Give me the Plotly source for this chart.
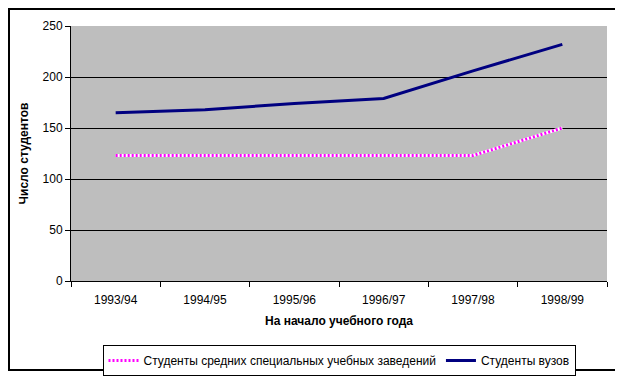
import plotly.graph_objects as go

categories = ["1993/94", "1994/95", "1995/96", "1996/97", "1997/98", "1998/99"]
vuz = [165, 168, 174, 179, 206, 232]
ssuz = [123, 123, 123, 123, 123, 150]
y_ticks = [0, 50, 100, 150, 200, 250]

name_ssuz = "Студенты средних специальных учебных заведений"
name_vuz = "Студенты вузов"

FONT = "Arial, Liberation Sans, sans-serif"

fig = go.Figure()
fig.add_trace(go.Scatter(x=categories, y=ssuz, mode="lines", showlegend=False,
                         line=dict(color="white", width=3), hoverinfo="skip"))
fig.add_trace(go.Scatter(x=categories, y=ssuz, mode="lines", name=name_ssuz,
                         line=dict(color="#ff00ff", width=3, dash="2px,2px")))
fig.add_trace(go.Scatter(x=categories, y=vuz, mode="lines", name=name_vuz,
                         line=dict(color="#000080", width=3)))

# page body has an 8px default margin, so the figure is sized to fit the window
L, R, T, B = 63, 16, 18, 96
W, H = 615, 369
pw = W - L - R
ph = H - T - B

def px_x(x):
    return (x - L) / pw

def px_y(y):
    return (H - B - y) / ph

fig.add_shape(type="rect", xref="paper", yref="paper",
              x0=px_x(1), x1=px_x(608), y0=px_y(362), y1=px_y(1),
              line=dict(color="black", width=2), fillcolor="rgba(0,0,0,0)", layer="below")

fig.update_layout(
    template="none",
    width=W, height=H,
    margin=dict(l=L, r=R, t=T, b=B, autoexpand=False),
    paper_bgcolor="white",
    plot_bgcolor="#bebebe",
    font=dict(family=FONT, size=12, color="black"),
    showlegend=True,
    legend=dict(orientation="h", x=0.5, xanchor="center", y=px_y(337), yanchor="top",
                bgcolor="white", bordercolor="black", borderwidth=1,
                font=dict(family=FONT, size=12, color="black"),
                tracegroupgap=0),
    xaxis=dict(
        type="category", categoryorder="array", categoryarray=categories,
        automargin=False,
        showline=True, linecolor="black", linewidth=1,
        ticks="outside", ticklen=5, tickcolor="black", tickson="boundaries",
        ticklabelstandoff=8,
        showgrid=False, range=[-0.5, 5.5],
        title=dict(text="<b>На начало учебного года</b>", standoff=10,
                   font=dict(family=FONT, size=12)),
        tickfont=dict(family=FONT, size=12),
    ),
    yaxis=dict(
        range=[0, 250], tickvals=y_ticks,
        automargin=False,
        showline=True, linecolor="black", linewidth=1,
        ticks="outside", ticklen=5, tickcolor="black",
        showgrid=True, gridcolor="black", gridwidth=1,
        zeroline=False,
        title=dict(text="<b>Число студентов</b>", standoff=11,
                   font=dict(family=FONT, size=12)),
        tickfont=dict(family=FONT, size=12),
    ),
)

fig.write_html("out.html")
